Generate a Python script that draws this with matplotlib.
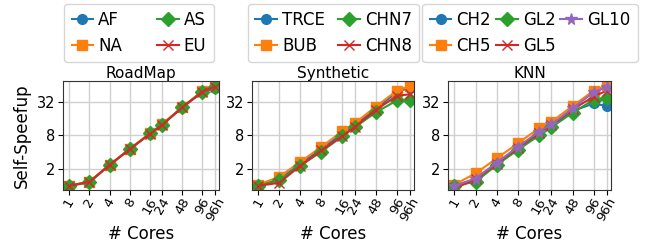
import numpy as np
import matplotlib.pyplot as plt

cores = ["1", "2", "4", "8", "16", "24", "48", "96", "96h"]
xpos = [0, 1, 2, 3, 4, 4.585, 5.585, 6.585, 7.2]

roadmap = {
    "AF": [1.0, 1.15, 2.35, 4.6, 8.6, 12.4, 25.5, 48, 56],
    "NA": [1.0, 1.18, 2.4, 4.6, 8.8, 12.6, 26.0, 50, 68],
    "AS": [1.0, 1.18, 2.36, 4.55, 8.7, 12.4, 25.7, 49, 60],
    "EU": [1.0, 1.17, 2.36, 4.55, 8.6, 12.3, 25.5, 49, 60],
}
synthetic = {
    "TRCE": [1.0, 1.3, 2.5, 4.6, 8.6, 12.2, 24.0, 48, 58],
    "BUB": [1.05, 1.45, 2.7, 5.0, 9.6, 13.3, 26.4, 51, 62],
    "CHN7": [1.0, 1.27, 2.3, 4.1, 7.8, 11.2, 20.8, 34, 34],
    "CHN8": [1.0, 1.13, 2.3, 4.3, 7.8, 11.4, 23.0, 41, 44],
}
knn = {
    "CH2": [1.0, 1.32, 2.5, 4.6, 8.6, 11.8, 22.0, 30, 27],
    "CH5": [1.05, 1.67, 3.1, 5.8, 10.8, 14.1, 27.0, 51, 64],
    "GL2": [1.0, 1.18, 2.36, 4.4, 8.0, 11.2, 20.5, 35, 38],
    "GL5": [0.9, 1.3, 2.5, 4.8, 9.0, 12.2, 23.5, 40, 51],
    "GL10": [1.0, 1.35, 2.6, 5.0, 9.4, 12.6, 24.5, 48, 59],
}

titles = ["RoadMap", "Synthetic", "KNN"]
datasets = [roadmap, synthetic, knn]
markers = ["o", "s", "D", "x", "*"]
colors = ["tab:blue", "tab:orange", "tab:green", "tab:red", "tab:purple"]

W, H = 646, 244
fig = plt.figure(figsize=(W / 100, H / 100), dpi=100)

axes_px = [(63, 219), (252, 414), (448, 611)]
legend_px = [(66, 212), (249, 418), (423, 637)]
colspace = [2.1, 0.8, 0.3]
top, bottom = 81, 190

for i, (data, title) in enumerate(zip(datasets, titles)):
    l, r = axes_px[i]
    ax = fig.add_axes([l / W, 1 - bottom / H, (r - l) / W, (bottom - top) / H])
    for j, (name, vals) in enumerate(data.items()):
        ax.plot(xpos, vals, marker=markers[j], color=colors[j], label=name,
                markersize=7 if markers[j] != "*" else 8.5, linewidth=1.5)
    ax.set_yscale("log", base=2)
    ax.set_ylim(0.84, 76)
    ax.set_yticks([2, 8, 32])
    ax.set_yticklabels(["2", "8", "32"], fontsize=10.5)
    ax.minorticks_off()
    ax.set_xlim(-0.3, 7.4)
    ax.set_xticks(xpos)
    ax.set_xticklabels(cores, rotation=60, fontsize=9.5, ha="center", va="top")
    ax.tick_params(axis="x", pad=0.5)
    ax.tick_params(axis="y", pad=2)
    ax.grid(True, color="#d0d0d0", linewidth=1)
    ax.set_axisbelow(True)
    for s in ax.spines.values():
        s.set_color("#333333")
    ax.set_title(title, fontsize=11, pad=1)
    ax.set_xlabel("# Cores", fontsize=12, labelpad=1)
    if i == 0:
        ax.set_ylabel("Self-Speefup", fontsize=12, labelpad=4)
    ncol = 3 if len(data) > 4 else 2
    ll, lr = legend_px[i]
    fig.legend(*ax.get_legend_handles_labels(), ncol=ncol, fontsize=12,
               loc="center", bbox_to_anchor=((ll + lr) / 2 / W, 1 - 33 / H),
               handlelength=1.3, handletextpad=0.3, columnspacing=colspace[i],
               borderpad=0.45, labelspacing=0.45, borderaxespad=0)

fig.savefig("out.png", dpi=100)
